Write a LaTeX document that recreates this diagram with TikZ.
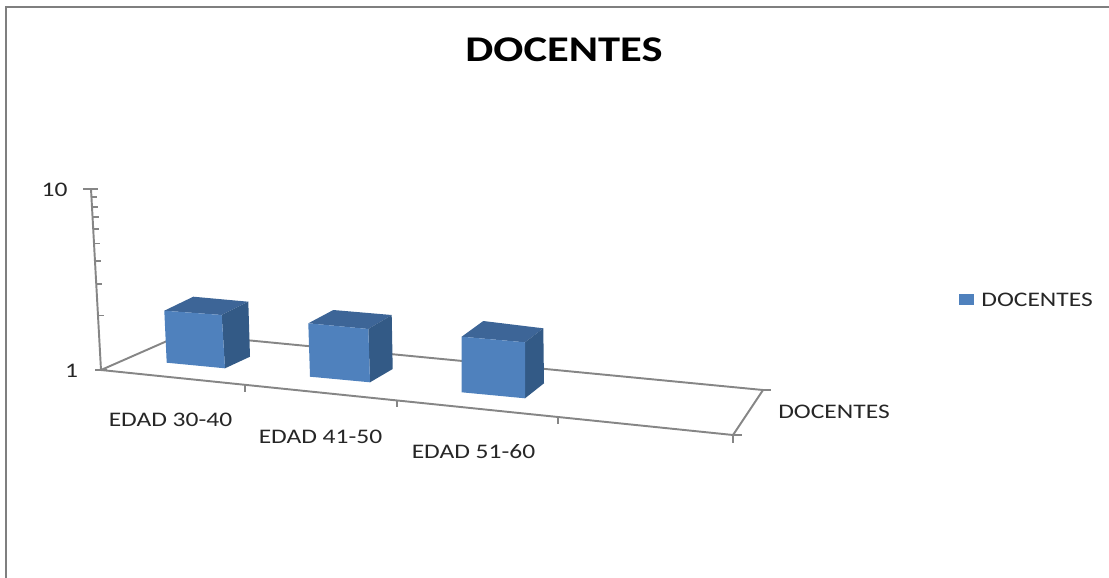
\documentclass[tikz,border=0pt]{standalone}
\usepackage{fontspec}
\setmainfont{Carlito}
\newfontfamily\chartfont[FakeStretch=1.23]{Carlito}
\usetikzlibrary{calc}
\definecolor{axisgray}{HTML}{868686}
\definecolor{framegray}{HTML}{7F7F7F}
\definecolor{barfront}{HTML}{4F81BD}
\definecolor{bartop}{HTML}{3D6597}
\definecolor{barside}{HTML}{335A86}
\newcommand{\barcube}[7]{%
  \fill[bartop] #1 -- #2 -- #6 -- #5 -- cycle;
  \fill[barside] #2 -- #6 -- #7 -- #3 -- cycle;
  \fill[barfront] #1 -- #2 -- #3 -- #4 -- cycle;}
\begin{document}
\begin{tikzpicture}[x=0.02cm, y=-0.02cm,
  axis/.style={draw=axisgray, line width=1.1pt},
  lbl/.style={font=\chartfont\fontsize{11.8}{14}\selectfont, text=black!85, inner sep=0pt},
  ttl/.style={font=\chartfont\bfseries\fontsize{20.6}{24}\selectfont, inner sep=0pt}]
\useasboundingbox (0,0) rectangle (1109,578);
% frame
\draw[framegray, line width=1.2pt] (6,578) -- (6,7) -- (1109,7);
% title
\node (title) at (564,50) [ttl] {DOCENTES};
% floor corners
\coordinate (fl) at (101,370);
\coordinate (fr) at (733,435);
\coordinate (br) at (763,390);
\coordinate (bl) at (183,334);
\coordinate (top) at (91,189);
\draw[axis] (fl) -- (fr) -- (br) -- (bl) -- cycle;
\draw[axis] (fl) -- (top);
% value axis ticks
\draw[axis] ($(top)+(-8,0)$) -- ($(top)+(7,0)$);
\draw[axis] ($(fl)+(-6,0)$) -- ($(fl)+(6,0)$);
\foreach \k in {2,...,9}{
  \pgfmathsetmacro{\lg}{ln(\k)/ln(10)}
  \draw[axis] (101-10*\lg,370-181*\lg) -- ++(6,0);
}
% category ticks
\foreach \t in {0.228,0.468,0.723}
  \draw[axis] ($(fl)!\t!(fr)$) -- ++(0,7);
\draw[axis] (fr) -- ++(0,8);
\draw[axis] (fr) -- ++(9,0);
\draw[axis] (br) -- ++(8,0);
% bars
\barcube{(164.3,310.7)}{(221.7,315)}{(225,368.3)}{(166.7,362.7)}{(193.3,296.7)}{(248.3,301.7)}{(250,356.7)}
\barcube{(308.3,323.3)}{(368.3,329)}{(370,382.3)}{(310,376.7)}{(333.3,310)}{(391.7,315)}{(392.7,369)}
\barcube{(461.7,336.7)}{(525,342.3)}{(525,398.3)}{(461.7,392.3)}{(483.3,321)}{(543.3,328.3)}{(544,383.3)}
% axis labels
\node (v10) at (54.5,190) [lbl] {10};
\node (v1) at (71.5,371) [lbl] {1};
\node (c1) at (170.5,420) [lbl] {EDAD 30-40};
\node (c2) at (320.5,437) [lbl] {EDAD 41-50};
\node (c3) at (473.5,452) [lbl] {EDAD 51-60};
\node (depth) at (834,412) [lbl] {DOCENTES};
% legend
\fill[barfront] (959,294) rectangle (974,305);
\node (legend) at (981,300) [lbl, anchor=west] {DOCENTES};
\end{tikzpicture}
\end{document}
